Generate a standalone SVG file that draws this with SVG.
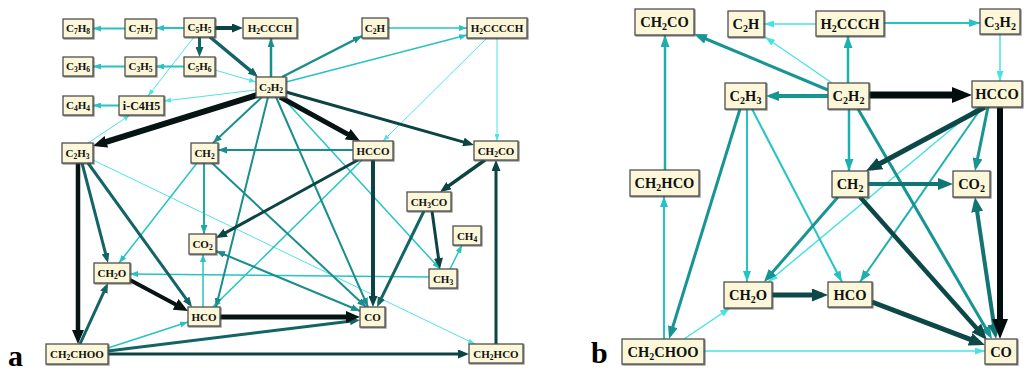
<svg xmlns="http://www.w3.org/2000/svg" width="1026" height="374" viewBox="0 0 1026 374">
<style>
  .n{fill:#fcf7d9;stroke:#4f4f4f;stroke-width:1.3;filter:url(#sh)}
  .ta{font-family:"Liberation Serif","Times New Roman",serif;font-weight:bold;font-size:11px;fill:#111;text-anchor:middle}
  .tb{font-family:"Liberation Serif","Times New Roman",serif;font-weight:bold;font-size:14.5px;fill:#111;text-anchor:middle}
  .sa{font-size:7.5px}
  .sb{font-size:10px}
  .lab{font-family:"Liberation Serif","Times New Roman",serif;font-weight:bold;font-size:30px;fill:#000}
  line{fill:none}
  .a0{stroke:#061414;marker-end:url(#ka0)}
  .a1{stroke:#0c4343;marker-end:url(#ka1)}
  .a2{stroke:#136464;marker-end:url(#ka2)}
  .a3{stroke:#1a8d8d;marker-end:url(#ka3)}
  .a4{stroke:#1ea8a8;marker-end:url(#ka4)}
  .a5{stroke:#27c3c3;marker-end:url(#ka5)}
  .a6{stroke:#4fe3e3;marker-end:url(#ka6)}
  .b0{stroke:#020e0e;marker-end:url(#jb0)}
  .b1{stroke:#0c4848;marker-end:url(#jb1)}
  .b2{stroke:#137474;marker-end:url(#jb2)}
  .b3{stroke:#179494;marker-end:url(#jb3)}
  .b4{stroke:#1eb0b0;marker-end:url(#jb4)}
  .b5{stroke:#24c4c4;marker-end:url(#jb5)}
  .b6{stroke:#48e2e2;marker-end:url(#jb6)}
</style>
<defs>
  <filter id="sh" x="-10%" y="-10%" width="130%" height="140%">
    <feDropShadow dx="1" dy="1" stdDeviation="0.4" flood-color="#444" flood-opacity="0.6"/>
  </filter>
  <!-- arrowheads, panel a -->
  <marker id="ka0" markerUnits="userSpaceOnUse" markerWidth="14" markerHeight="12" refX="7" refY="6" orient="auto-start-reverse"><path d="M0,0L14,6L0,12z" fill="#061414"/></marker>
  <marker id="ka1" markerUnits="userSpaceOnUse" markerWidth="11" markerHeight="9" refX="6" refY="4.5" orient="auto-start-reverse"><path d="M0,0L11,4.5L0,9z" fill="#0c4343"/></marker>
  <marker id="ka2" markerUnits="userSpaceOnUse" markerWidth="10" markerHeight="8" refX="6" refY="4" orient="auto-start-reverse"><path d="M0,0L10,4L0,8z" fill="#136464"/></marker>
  <marker id="ka3" markerUnits="userSpaceOnUse" markerWidth="9" markerHeight="7" refX="9" refY="3.5" orient="auto-start-reverse"><path d="M0,0L9,3.5L0,7z" fill="#1a8d8d"/></marker>
  <marker id="ka4" markerUnits="userSpaceOnUse" markerWidth="9" markerHeight="7" refX="9" refY="3.5" orient="auto-start-reverse"><path d="M0,0L9,3.5L0,7z" fill="#1ea8a8"/></marker>
  <marker id="ka5" markerUnits="userSpaceOnUse" markerWidth="8" markerHeight="6" refX="8" refY="3" orient="auto-start-reverse"><path d="M0,0L8,3L0,6z" fill="#27c3c3"/></marker>
  <marker id="ka6" markerUnits="userSpaceOnUse" markerWidth="7" markerHeight="5" refX="7" refY="2.5" orient="auto-start-reverse"><path d="M0,0L7,2.5L0,5z" fill="#4fe3e3"/></marker>
  <!-- arrowheads, panel b -->
  <marker id="jb0" markerUnits="userSpaceOnUse" markerWidth="20" markerHeight="16" refX="11" refY="8" orient="auto-start-reverse"><path d="M0,0L20,8L0,16z" fill="#020e0e"/></marker>
  <marker id="jb1" markerUnits="userSpaceOnUse" markerWidth="16" markerHeight="13" refX="10" refY="6.5" orient="auto-start-reverse"><path d="M0,0L16,6.5L0,13z" fill="#0c4848"/></marker>
  <marker id="jb2" markerUnits="userSpaceOnUse" markerWidth="15" markerHeight="12" refX="10" refY="6" orient="auto-start-reverse"><path d="M0,0L15,6L0,12z" fill="#137474"/></marker>
  <marker id="jb3" markerUnits="userSpaceOnUse" markerWidth="13" markerHeight="10" refX="9" refY="5" orient="auto-start-reverse"><path d="M0,0L13,5L0,10z" fill="#179494"/></marker>
  <marker id="jb4" markerUnits="userSpaceOnUse" markerWidth="12" markerHeight="9" refX="12" refY="4.5" orient="auto-start-reverse"><path d="M0,0L12,4.5L0,9z" fill="#1eb0b0"/></marker>
  <marker id="jb5" markerUnits="userSpaceOnUse" markerWidth="11" markerHeight="8" refX="11" refY="4" orient="auto-start-reverse"><path d="M0,0L11,4L0,8z" fill="#24c4c4"/></marker>
  <marker id="jb6" markerUnits="userSpaceOnUse" markerWidth="10" markerHeight="7" refX="10" refY="3.5" orient="auto-start-reverse"><path d="M0,0L10,3.5L0,7z" fill="#48e2e2"/></marker>
</defs>
<rect width="1026" height="374" fill="#fff"/>

<!-- connectors, panel a -->
<g id="edges-a">
  <line class="a6" x1="194" y1="37" x2="148" y2="96" stroke-width="1"/>
  <line class="a6" x1="215" y1="70" x2="256" y2="82" stroke-width="1"/>
  <line class="a6" x1="256" y1="90" x2="164" y2="101" stroke-width="1"/>
  <line class="a6" x1="88" y1="143" x2="130" y2="115" stroke-width="1"/>
  <line class="a6" x1="487" y1="38" x2="383" y2="141" stroke-width="1"/>
  <line class="a6" x1="497" y1="38" x2="497" y2="141" stroke-width="1"/>
  <line class="a6" x1="93" y1="160" x2="475" y2="344" stroke-width="1"/>
  <line class="a5" x1="184" y1="28" x2="156" y2="28" stroke-width="2"/>
  <line class="a5" x1="125" y1="28.5" x2="93" y2="28.5" stroke-width="2"/>
  <line class="a5" x1="184" y1="66.5" x2="156" y2="66.5" stroke-width="2"/>
  <line class="a5" x1="125" y1="66.5" x2="93" y2="66.5" stroke-width="2"/>
  <line class="a5" x1="119" y1="105.5" x2="93" y2="105.5" stroke-width="2"/>
  <line class="a5" x1="388" y1="28" x2="467" y2="28" stroke-width="1.5"/>
  <line class="a5" x1="286" y1="82" x2="467" y2="35" stroke-width="1.5"/>
  <line class="a5" x1="282" y1="97" x2="440" y2="269" stroke-width="1.5"/>
  <line class="a5" x1="362" y1="160" x2="213" y2="307" stroke-width="1.5"/>
  <line class="a5" x1="197" y1="163" x2="119" y2="263" stroke-width="1.5"/>
  <line class="a5" x1="108" y1="348" x2="188" y2="322" stroke-width="1.5"/>
  <line class="a5" x1="203" y1="307" x2="203" y2="254" stroke-width="1.5"/>
  <line class="a5" x1="429" y1="277" x2="130" y2="274" stroke-width="1.5"/>
  <line class="a5" x1="450" y1="269" x2="462" y2="245" stroke-width="1.5"/>
  <line class="a4" x1="204" y1="163" x2="204" y2="234" stroke-width="2"/>
  <line class="a3" x1="271" y1="77" x2="271" y2="38" stroke-width="2.5"/>
  <line class="a3" x1="282" y1="77" x2="362" y2="36" stroke-width="2.5"/>
  <line class="a3" x1="262" y1="97" x2="213" y2="143" stroke-width="2"/>
  <line class="a3" x1="353" y1="150" x2="218" y2="150" stroke-width="2"/>
  <line class="a3" x1="276" y1="97" x2="368" y2="307" stroke-width="2"/>
  <line class="a3" x1="268" y1="97" x2="216" y2="307" stroke-width="2"/>
  <line class="a3" x1="212" y1="163" x2="366" y2="307" stroke-width="2"/>
  <line class="a3" x1="216" y1="251" x2="360" y2="311" stroke-width="2" style="marker-start:url(#ka3)"/>
  <line class="a2" x1="199.5" y1="37" x2="199.5" y2="53" stroke-width="3"/>
  <line class="a2" x1="210" y1="37" x2="254.9" y2="74.4" stroke-width="3.5"/>
  <line class="a2" x1="82" y1="163" x2="107" y2="259.1" stroke-width="3"/>
  <line class="a2" x1="88" y1="163" x2="189.7" y2="303.8" stroke-width="3"/>
  <line class="a2" x1="80" y1="344" x2="106.3" y2="286.6" stroke-width="3"/>
  <line class="a2" x1="108" y1="351" x2="356" y2="320.5" stroke-width="3"/>
  <line class="a2" x1="424" y1="211" x2="378.8" y2="303.4" stroke-width="3"/>
  <line class="a1" x1="215" y1="28" x2="238" y2="28" stroke-width="4"/>
  <line class="a1" x1="286" y1="92" x2="469.2" y2="143.6" stroke-width="3"/>
  <line class="a1" x1="373" y1="160" x2="373" y2="302" stroke-width="4"/>
  <line class="a1" x1="358" y1="160" x2="220.4" y2="235.6" stroke-width="3"/>
  <line class="a1" x1="108" y1="354" x2="464" y2="354" stroke-width="3"/>
  <line class="a1" x1="432" y1="211" x2="439.3" y2="264" stroke-width="3"/>
  <line class="a1" x1="485" y1="160" x2="444.1" y2="189.1" stroke-width="3.5"/>
  <line class="a1" x1="496" y1="344" x2="496" y2="165" stroke-width="3"/>
  <line class="a0" x1="257" y1="95" x2="99.7" y2="143.9" stroke-width="6"/>
  <line class="a0" x1="280" y1="97" x2="353.9" y2="137.6" stroke-width="5"/>
  <line class="a0" x1="78" y1="163" x2="78" y2="337" stroke-width="4.5"/>
  <line class="a0" x1="130" y1="280" x2="181.8" y2="307.7" stroke-width="4"/>
  <line class="a0" x1="220" y1="317" x2="353" y2="317" stroke-width="5"/>
</g>

<!-- connectors, panel b -->
<g id="edges-b">
  <line class="b6" x1="816" y1="24" x2="764" y2="24" stroke-width="1.5"/>
  <line class="b6" x1="832" y1="83" x2="765" y2="37" stroke-width="1.2"/>
  <line class="b6" x1="1000" y1="34" x2="1000" y2="81" stroke-width="1.5"/>
  <line class="b6" x1="978" y1="107" x2="768" y2="282" stroke-width="1.5"/>
  <line class="b6" x1="684" y1="339" x2="730" y2="308" stroke-width="1.5"/>
  <line class="b6" x1="704" y1="351" x2="985" y2="351" stroke-width="1.5"/>
  <line class="b5" x1="884" y1="23" x2="980" y2="23" stroke-width="2"/>
  <line class="b5" x1="664" y1="339" x2="664" y2="196" stroke-width="2"/>
  <line class="b5" x1="747" y1="109" x2="747" y2="282" stroke-width="2"/>
  <line class="b5" x1="752" y1="109" x2="842" y2="282" stroke-width="2"/>
  <line class="b4" x1="848" y1="83" x2="848" y2="36" stroke-width="2.5"/>
  <line class="b4" x1="665" y1="170" x2="665" y2="35" stroke-width="2.5"/>
  <line class="b4" x1="849" y1="109" x2="849" y2="171" stroke-width="2.5"/>
  <line class="b4" x1="982" y1="107" x2="860" y2="282" stroke-width="2"/>
  <line class="b3" x1="828" y1="96" x2="770" y2="96" stroke-width="4"/>
  <line class="b3" x1="828" y1="90" x2="697.7" y2="35.5" stroke-width="3"/>
  <line class="b3" x1="740" y1="109" x2="670.2" y2="335.2" stroke-width="3"/>
  <line class="b3" x1="858" y1="109" x2="990" y2="335.5" stroke-width="3"/>
  <line class="b3" x1="988" y1="107" x2="975.8" y2="167.1" stroke-width="3"/>
  <line class="b3" x1="838" y1="197" x2="766.6" y2="279" stroke-width="3"/>
  <line class="b2" x1="868" y1="184" x2="948" y2="184" stroke-width="4"/>
  <line class="b2" x1="975.7" y1="202" x2="995.3" y2="334" stroke-width="4" style="marker-start:url(#jb2)"/>
  <line class="b1" x1="985" y1="107" x2="871.3" y2="168.2" stroke-width="5"/>
  <line class="b1" x1="860" y1="197" x2="983" y2="335.5" stroke-width="4.5"/>
  <line class="b1" x1="772" y1="295" x2="822" y2="295" stroke-width="5"/>
  <line class="b1" x1="872" y1="302" x2="979.4" y2="342.9" stroke-width="5"/>
  <line class="b0" x1="869" y1="95" x2="963" y2="95" stroke-width="7"/>
  <line class="b0" x1="1000" y1="107" x2="1000" y2="330" stroke-width="6"/>
</g>

<!-- species, panel a -->
<g id="a-C7H8"><rect class="n" x="63" y="19" width="30" height="19"/><text class="ta" x="78" y="32">C<tspan class="sa" dy="2">7</tspan><tspan dy="-2">H</tspan><tspan class="sa" dy="2">8</tspan></text></g>
<g id="a-C7H7"><rect class="n" x="125" y="19" width="31" height="19"/><text class="ta" x="140.5" y="32">C<tspan class="sa" dy="2">7</tspan><tspan dy="-2">H</tspan><tspan class="sa" dy="2">7</tspan></text></g>
<g id="a-C5H5"><rect class="n" x="184" y="18" width="31" height="19"/><text class="ta" x="199.5" y="31">C<tspan class="sa" dy="2">5</tspan><tspan dy="-2">H</tspan><tspan class="sa" dy="2">5</tspan></text></g>
<g id="a-H2CCCH"><rect class="n" x="243" y="18" width="54" height="20"/><text class="ta" x="270" y="31.5">H<tspan class="sa" dy="2">2</tspan><tspan dy="-2">CCCH</tspan></text></g>
<g id="a-C2H"><rect class="n" x="362" y="18" width="26" height="20"/><text class="ta" x="375" y="31.5">C<tspan class="sa" dy="2">2</tspan><tspan dy="-2">H</tspan></text></g>
<g id="a-H2CCCCH"><rect class="n" x="467" y="18" width="60" height="20"/><text class="ta" x="497" y="31.5">H<tspan class="sa" dy="2">2</tspan><tspan dy="-2">CCCCH</tspan></text></g>
<g id="a-C3H6"><rect class="n" x="63" y="57" width="30" height="19"/><text class="ta" x="78" y="70">C<tspan class="sa" dy="2">3</tspan><tspan dy="-2">H</tspan><tspan class="sa" dy="2">6</tspan></text></g>
<g id="a-C3H5"><rect class="n" x="125" y="57" width="31" height="19"/><text class="ta" x="140.5" y="70">C<tspan class="sa" dy="2">3</tspan><tspan dy="-2">H</tspan><tspan class="sa" dy="2">5</tspan></text></g>
<g id="a-C5H6"><rect class="n" x="184" y="57" width="31" height="19"/><text class="ta" x="199.5" y="70">C<tspan class="sa" dy="2">5</tspan><tspan dy="-2">H</tspan><tspan class="sa" dy="2">6</tspan></text></g>
<g id="a-C4H4"><rect class="n" x="63" y="96" width="30" height="19"/><text class="ta" x="78" y="109">C<tspan class="sa" dy="2">4</tspan><tspan dy="-2">H</tspan><tspan class="sa" dy="2">4</tspan></text></g>
<g id="a-iC4H5"><rect class="n" x="119" y="96" width="45" height="19"/><text class="ta" x="141.5" y="109.5" style="font-size:12px">i-C4H5</text></g>
<g id="a-C2H2"><rect class="n" x="256" y="77" width="30" height="20"/><text class="ta" x="271" y="90.5">C<tspan class="sa" dy="2">2</tspan><tspan dy="-2">H</tspan><tspan class="sa" dy="2">2</tspan></text></g>
<g id="a-C2H3"><rect class="n" x="62" y="143" width="31" height="20"/><text class="ta" x="77.5" y="156.5">C<tspan class="sa" dy="2">2</tspan><tspan dy="-2">H</tspan><tspan class="sa" dy="2">3</tspan></text></g>
<g id="a-CH2"><rect class="n" x="191" y="143" width="27" height="20"/><text class="ta" x="204.5" y="156.5">CH<tspan class="sa" dy="2">2</tspan></text></g>
<g id="a-HCCO"><rect class="n" x="353" y="141" width="40" height="19"/><text class="ta" x="373" y="154.5">HCCO</text></g>
<g id="a-CH2CO"><rect class="n" x="474" y="141" width="44" height="19"/><text class="ta" x="496" y="154.5">CH<tspan class="sa" dy="2">2</tspan><tspan dy="-2">CO</tspan></text></g>
<g id="a-CH3CO"><rect class="n" x="407" y="192" width="44" height="19"/><text class="ta" x="429" y="205.5">CH<tspan class="sa" dy="2">3</tspan><tspan dy="-2">CO</tspan></text></g>
<g id="a-CH4"><rect class="n" x="453" y="226" width="28" height="19"/><text class="ta" x="467" y="239.5">CH<tspan class="sa" dy="2">4</tspan></text></g>
<g id="a-CO2"><rect class="n" x="189" y="234" width="27" height="20"/><text class="ta" x="202.5" y="247.5">CO<tspan class="sa" dy="2">2</tspan></text></g>
<g id="a-CH2O"><rect class="n" x="94" y="263" width="36" height="20"/><text class="ta" x="112" y="276.5">CH<tspan class="sa" dy="2">2</tspan><tspan dy="-2">O</tspan></text></g>
<g id="a-CH3"><rect class="n" x="429" y="269" width="28" height="19"/><text class="ta" x="443" y="282.5">CH<tspan class="sa" dy="2">3</tspan></text></g>
<g id="a-HCO"><rect class="n" x="188" y="307" width="32" height="19"/><text class="ta" x="204" y="320.5">HCO</text></g>
<g id="a-CO"><rect class="n" x="360" y="307" width="25" height="20"/><text class="ta" x="372.5" y="321">CO</text></g>
<g id="a-CH2CHOO"><rect class="n" x="46" y="344" width="62" height="20"/><text class="ta" x="77" y="357.5">CH<tspan class="sa" dy="2">2</tspan><tspan dy="-2">CHOO</tspan></text></g>
<g id="a-CH2HCO"><rect class="n" x="469" y="344" width="54" height="19"/><text class="ta" x="496" y="357.5">CH<tspan class="sa" dy="2">2</tspan><tspan dy="-2">HCO</tspan></text></g>

<!-- species, panel b -->
<g id="b-CH2CO"><rect class="n" x="635" y="9" width="59" height="26"/><text class="tb" x="664.5" y="27">CH<tspan class="sb" dy="3">2</tspan><tspan dy="-3">CO</tspan></text></g>
<g id="b-C2H"><rect class="n" x="728" y="11" width="36" height="26"/><text class="tb" x="746" y="29">C<tspan class="sb" dy="3">2</tspan><tspan dy="-3">H</tspan></text></g>
<g id="b-H2CCCH"><rect class="n" x="816" y="11" width="68" height="25"/><text class="tb" x="850" y="28.5">H<tspan class="sb" dy="3">2</tspan><tspan dy="-3">CCCH</tspan></text></g>
<g id="b-C3H2"><rect class="n" x="980" y="9" width="40" height="25"/><text class="tb" x="1000" y="26.5">C<tspan class="sb" dy="3">3</tspan><tspan dy="-3">H</tspan><tspan class="sb" dy="3">2</tspan></text></g>
<g id="b-C2H3"><rect class="n" x="725" y="83" width="41" height="26"/><text class="tb" x="745.5" y="101">C<tspan class="sb" dy="3">2</tspan><tspan dy="-3">H</tspan><tspan class="sb" dy="3">3</tspan></text></g>
<g id="b-C2H2"><rect class="n" x="828" y="83" width="41" height="26"/><text class="tb" x="848.5" y="101">C<tspan class="sb" dy="3">2</tspan><tspan dy="-3">H</tspan><tspan class="sb" dy="3">2</tspan></text></g>
<g id="b-HCCO"><rect class="n" x="972" y="81" width="50" height="26"/><text class="tb" x="997" y="99">HCCO</text></g>
<g id="b-CH2HCO"><rect class="n" x="630" y="170" width="69" height="26"/><text class="tb" x="664.5" y="188">CH<tspan class="sb" dy="3">2</tspan><tspan dy="-3">HCO</tspan></text></g>
<g id="b-CH2"><rect class="n" x="832" y="171" width="36" height="26"/><text class="tb" x="850" y="189">CH<tspan class="sb" dy="3">2</tspan></text></g>
<g id="b-CO2"><rect class="n" x="953" y="171" width="37" height="26"/><text class="tb" x="971.5" y="189">CO<tspan class="sb" dy="3">2</tspan></text></g>
<g id="b-CH2O"><rect class="n" x="724" y="282" width="48" height="26"/><text class="tb" x="748" y="300">CH<tspan class="sb" dy="3">2</tspan><tspan dy="-3">O</tspan></text></g>
<g id="b-HCO"><rect class="n" x="828" y="282" width="44" height="25"/><text class="tb" x="850" y="299.5">HCO</text></g>
<g id="b-CH2CHOO"><rect class="n" x="622" y="339" width="82" height="25"/><text class="tb" x="663" y="356.5">CH<tspan class="sb" dy="3">2</tspan><tspan dy="-3">CHOO</tspan></text></g>
<g id="b-CO"><rect class="n" x="985" y="339" width="32" height="25"/><text class="tb" x="1001" y="356.5">CO</text></g>

<!-- panel letters -->
<text class="lab" x="8" y="366">a</text>
<text class="lab" x="591" y="363">b</text>
</svg>
